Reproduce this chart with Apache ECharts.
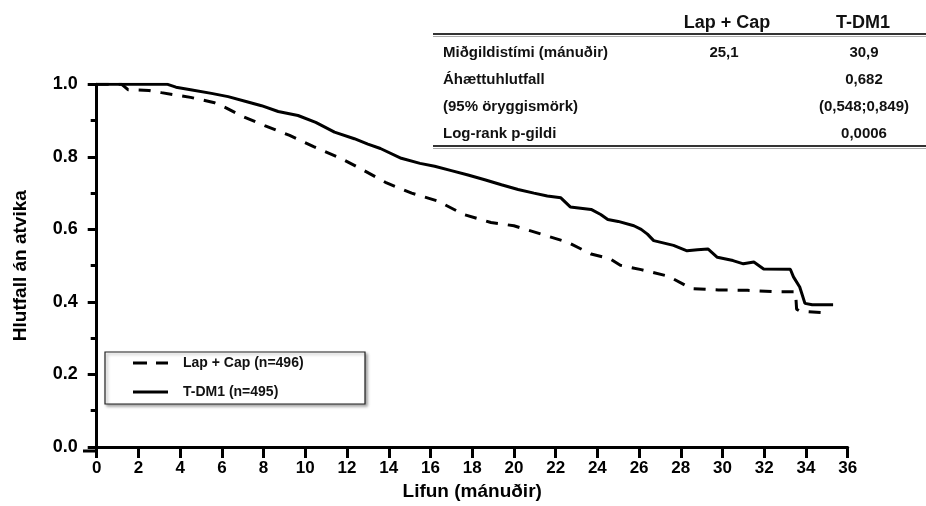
<!DOCTYPE html>
<html><head><meta charset="utf-8">
<script src="https://cdn.jsdelivr.net/npm/echarts@6/dist/echarts.min.js"></script>
<style>html,body{margin:0;padding:0;background:#fff}#c{width:926px;height:506px}</style>
</head><body><div id="c"></div>
<script>
// Kaplan-Meier curves: [month, proportion event-free]
const seriesNames = ['Lap + Cap (n=496)', 'T-DM1 (n=495)'];
const lapCap = [[0,1.0],[1.2,1.0],[1.5,0.985],[2.5,0.983],[3.1,0.977],[4.5,0.964],[5.6,0.950],[6.2,0.935],[6.9,0.914],[8.05,0.886],[9.25,0.859],[10.4,0.828],[11.7,0.796],[12.76,0.764],[13.9,0.728],[15.1,0.700],[16.35,0.678],[17.6,0.641],[18.9,0.619],[20.0,0.610],[21.3,0.587],[22.6,0.564],[23.7,0.532],[24.6,0.519],[25.1,0.501],[26.1,0.489],[27.4,0.471],[28.5,0.437],[29.8,0.433],[31.2,0.432],[32.5,0.428],[33.5,0.428],[33.55,0.38],[33.7,0.375],[34.1,0.373],[34.9,0.370]];
const tdm1 = [[0,1.0],[3.4,1.0],[3.8,0.992],[4.5,0.985],[5.5,0.975],[6.3,0.966],[7.2,0.952],[7.9,0.941],[8.7,0.925],[9.65,0.914],[10.5,0.895],[11.4,0.868],[12.35,0.850],[13.0,0.835],[13.6,0.823],[14.6,0.796],[15.5,0.782],[16.2,0.774],[17.0,0.762],[17.8,0.750],[18.6,0.737],[19.4,0.723],[20.2,0.710],[20.96,0.700],[21.6,0.692],[22.25,0.687],[22.7,0.662],[23.7,0.655],[24.16,0.641],[24.5,0.627],[25.0,0.622],[25.75,0.610],[26.1,0.600],[26.4,0.587],[26.7,0.569],[27.65,0.556],[28.3,0.541],[28.8,0.544],[29.3,0.546],[29.75,0.523],[30.5,0.514],[31.0,0.505],[31.5,0.510],[31.97,0.491],[33.25,0.490],[33.4,0.469],[33.7,0.441],[33.8,0.423],[33.95,0.396],[34.3,0.392],[35.3,0.392]];
const xTitle = 'Lifun (mánuðir)';
const yTitle = 'Hlutfall án atvika';
const tableHeader = ['Lap + Cap', 'T-DM1'];
const tableRows = [
  ['Miðgildistími (mánuðir)', '25,1', '30,9'],
  ['Áhættuhlutfall', '', '0,682'],
  ['(95% öryggismörk)', '', '(0,548;0,849)'],
  ['Log-rank p-gildi', '', '0,0006']
];

const FONT = "'Liberation Sans', Arial, sans-serif";
const chart = echarts.init(document.getElementById('c'), null, {renderer:'canvas'});

const rowY = [53, 80, 107, 134];
const graphics = [];
graphics.push({type:'text', x:727, y:23, style:{text:tableHeader[0], font:'bold 18px '+FONT, fill:'#111', textAlign:'center', textVerticalAlign:'middle'}});
graphics.push({type:'text', x:863, y:23, style:{text:tableHeader[1], font:'bold 18px '+FONT, fill:'#111', textAlign:'center', textVerticalAlign:'middle'}});
graphics.push({type:'line', shape:{x1:433,y1:34,x2:926,y2:34}, style:{stroke:'#333', lineWidth:2}});
graphics.push({type:'line', shape:{x1:433,y1:36.5,x2:926,y2:36.5}, style:{stroke:'#aaa', lineWidth:1}});
graphics.push({type:'line', shape:{x1:433,y1:146,x2:926,y2:146}, style:{stroke:'#333', lineWidth:2}});
graphics.push({type:'line', shape:{x1:433,y1:148.5,x2:926,y2:148.5}, style:{stroke:'#aaa', lineWidth:1}});
tableRows.forEach((r,i)=>{
  graphics.push({type:'text', x:443, y:rowY[i], style:{text:r[0], font:'bold 15px '+FONT, fill:'#111', textVerticalAlign:'middle'}});
  if (r[1]) graphics.push({type:'text', x:724, y:rowY[i], style:{text:r[1], font:'bold 15px '+FONT, fill:'#111', textAlign:'center', textVerticalAlign:'middle'}});
  if (r[2]) graphics.push({type:'text', x:864, y:rowY[i], style:{text:r[2], font:'bold 15px '+FONT, fill:'#111', textAlign:'center', textVerticalAlign:'middle'}});
});
// x-axis line extension to the left of the y axis (Prism style)
graphics.push({type:'line', shape:{x1:83,y1:451,x2:97,y2:451}, style:{stroke:'#000', lineWidth:3}});
// legend box
graphics.push({type:'rect', shape:{x:105,y:352,width:260,height:52}, style:{fill:'#fff', stroke:'#222', lineWidth:1.2, shadowBlur:3, shadowOffsetX:2, shadowOffsetY:2, shadowColor:'rgba(0,0,0,0.35)'}, z:5});

const option = {
  animation:false,
  backgroundColor:'#fff',
  grid:{left:96.7, right:78.3, top:84.3, bottom:55, containLabel:false},
  legend:{
    data:[
      {name:seriesNames[0], icon:'path://M0,0h14v3h-14zM23,0h12v3h-12z'},
      {name:seriesNames[1], icon:'path://M0,0h35v3h-35z'}
    ],
    orient:'vertical', left:128, top:350, itemWidth:35, itemHeight:3, itemGap:13,
    textStyle:{fontFamily:FONT, fontWeight:'bold', fontSize:14, color:'#111', padding:[0,0,0,10], lineHeight:16},
    z:10
  },
  xAxis:{
    type:'value', min:0, max:36, interval:2,
    name:xTitle, nameLocation:'middle', nameGap:35,
    nameTextStyle:{fontFamily:FONT, fontWeight:'bold', fontSize:19, color:'#000'},
    axisLine:{show:true, lineStyle:{color:'#000', width:3}},
    axisTick:{show:true, length:11, lineStyle:{color:'#000', width:3}},
    axisLabel:{fontFamily:FONT, fontWeight:'bold', fontSize:17, color:'#000', margin:13},
    splitLine:{show:false}
  },
  yAxis:{
    type:'value', min:0, max:1, interval:0.2, offset:4,
    name:yTitle, nameLocation:'middle', nameGap:62, nameRotate:90,
    nameTextStyle:{fontFamily:FONT, fontWeight:'bold', fontSize:19, color:'#000'},
    axisLine:{show:true, lineStyle:{color:'#000', width:3}},
    axisTick:{show:true, length:9, lineStyle:{color:'#000', width:3}},
    minorTick:{show:true, splitNumber:2, length:6, lineStyle:{color:'#000', width:3}},
    axisLabel:{fontFamily:FONT, fontWeight:'bold', fontSize:18, color:'#000', margin:15, formatter:v=>v.toFixed(1)},
    splitLine:{show:false}
  },
  series:[
    {name:seriesNames[0], type:'line', data:lapCap, symbol:'none', smooth:false,
     lineStyle:{color:'#000', width:3, type:[12,10]}, itemStyle:{color:'#000'}},
    {name:seriesNames[1], type:'line', data:tdm1, symbol:'none', smooth:false,
     lineStyle:{color:'#000', width:3, type:'solid'}, itemStyle:{color:'#000'}}
  ],
  graphic:graphics
};
chart.setOption(option);
</script></body></html>
